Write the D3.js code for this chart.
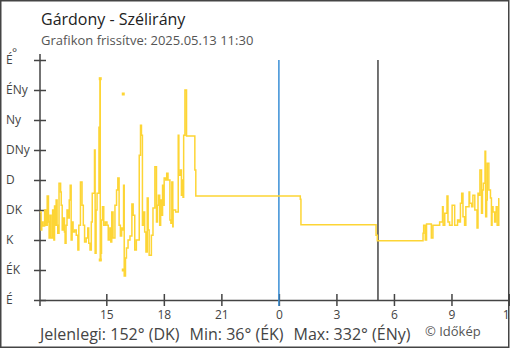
<!DOCTYPE html>
<html><head><meta charset="utf-8">
<script src="https://cdn.jsdelivr.net/npm/d3@7"></script>
<style>
html,body{margin:0;padding:0;background:#fff;}
svg{display:block;font-family:"Open Sans",sans-serif;}
</style></head><body>
<svg id="c" width="510" height="350"></svg>
<script>
// ---------- data ----------
const title = "Gárdony - Szélirány";
const subtitle = "Grafikon frissítve: 2025.05.13 11:30";
const dirTicks = [0, 45, 90, 135, 180, 225, 270, 315, 360];
const dirLabels = ["É", "ÉK", "K", "DK", "D", "DNy", "Ny", "ÉNy", "É"];
const hourTicks = ["2025-05-12T15:00", "2025-05-12T18:00", "2025-05-12T21:00", "2025-05-13T00:00",
                   "2025-05-13T03:00", "2025-05-13T06:00", "2025-05-13T09:00", "2025-05-13T12:00"];
const hourLabels = ["15", "18", "21", "0", "3", "6", "9", "12"];
const timeDomain = ["2025-05-12T11:32:30", "2025-05-13T12:00:00"];

// measurement times (HH:MM; before 11:31 = 13 May, otherwise 12 May) and wind directions (deg)
const times = [
 "11:32","11:36","11:38","11:42","11:47","11:51","11:55","11:59","12:01","12:04",
 "12:07","12:12","12:16","12:18","12:21","12:23","12:26","12:28","12:32","12:37",
 "12:39","12:42","12:46","12:49","12:51","12:54","12:57","13:01","13:04","13:07",
 "13:10","13:13","13:16","13:21","13:26","13:31","13:34","13:39","13:44","13:48",
 "13:52","13:57","14:02","14:05","14:09","14:13","14:16","14:23","14:25","14:28",
 "14:31","14:37","14:40","14:41","14:43","14:45","14:48","14:52","14:57","15:02",
 "15:06","15:11","15:14","15:17","15:21","15:27","15:32","15:36","15:40","15:44",
 "15:48","15:52","15:54","15:56","16:00","16:03","16:08","16:14","16:20","16:24",
 "16:29","16:34","16:43","16:47","16:50","16:53","16:57","17:00","17:04","17:08",
 "17:11","17:14","17:21","17:26","17:32","17:37","17:40","17:43","17:47","17:50",
 "17:53","17:56","17:59","18:01","18:06","18:09","18:13","18:19","18:22","18:25",
 "18:28","18:29","18:37","18:45","18:47","18:52","18:55","18:58","19:00","19:02",
 "19:06","19:11","19:37","19:40",
 "01:07","01:09","05:04","05:08",
 "07:31","07:33","07:38","07:42","07:57","08:02","08:23","08:32","08:34","08:39",
 "08:46","08:49","08:54","09:02","09:10","09:19","09:24","09:28","09:32","09:36",
 "09:41","09:45","09:55","09:57","10:03","10:07","10:13","10:20","10:23","10:26",
 "10:29","10:34","10:37","10:40","10:45","10:47","10:50","10:52","10:57","11:02",
 "11:05","11:07","11:10","11:15","11:18","11:20","11:23","11:28","11:30"
];
const dirs = [
 132,105,117,111,135,112,156,117,93,127,
 93,135,90,141,112,150,112,100,175,162,
 142,105,123,102,85,112,135,123,150,172,
 90,117,102,105,97,75,112,177,142,112,
 87,93,108,85,75,117,160,225,70,135,
 160,259,332,60,70,120,140,112,117,112,
 90,108,87,132,93,142,165,183,112,96,
 108,105,172,36,63,78,90,96,144,127,
 75,90,217,262,247,112,132,102,72,153,
 105,67,97,138,200,117,142,157,112,150,
 127,172,142,183,180,190,180,120,115,177,
 110,135,132,247,187,195,157,180,154,247,
 315,246,195,156,
 151,113,97,89,
 100,112,90,114,93,112,117,140,112,130,
 156,117,112,142,112,120,117,145,160,125,
 112,140,162,145,140,157,135,108,160,157,
 195,130,165,175,223,125,150,205,165,153,
 112,140,132,117,132,140,112,152,152
];
const markerTimes = ["14:41", "14:41", "15:53", "15:53"];
const markerDirs = [332, 60, 309, 45];
const refLineTimes = ["00:00", "05:10"]; // midnight, sunrise
const summary = ["Jelenlegi: 152° (DK)", "Min: 36° (ÉK)", "Max: 332° (ÉNy)"];
const credit = "© Időkép";

// ---------- helpers ----------
const at = s => {
  const [h, m] = s.split(":").map(Number);
  const day = (h * 60 + m) < 11 * 60 + 31 ? 13 : 12;
  return new Date(2025, 4, day, h, m);
};
const iso = s => new Date(s);

const svg = d3.select("#c");
const plotL = 40, plotR = 509, plotT = 60, plotB = 300;

svg.append("rect").attr("x", 0.75).attr("y", 0.75).attr("width", 508).attr("height", 346.5)
  .attr("fill", "#fff").attr("stroke", "#444").attr("stroke-width", 1.5);

const x = d3.scaleTime().domain(timeDomain.map(iso)).range([plotL, plotR]);
const y = d3.scaleLinear().domain([0, 360]).range([plotB, plotT]);

// title
svg.append("text").attr("x", 41).attr("y", 25).attr("font-size", 16).attr("fill", "#222").text(title);
svg.append("text").attr("x", 41).attr("y", 45).attr("font-size", 13).attr("fill", "#555").text(subtitle);

// y axis
const yAxis = svg.append("g").attr("transform", `translate(${plotL},0)`)
  .call(d3.axisLeft(y).tickValues(dirTicks).tickFormat((d, i) => dirLabels[i]).tickSizeOuter(0));
yAxis.select(".domain").attr("d", `M0,${y(360) - 6}V${y(0) + 6}`).attr("stroke", "#444").attr("stroke-width", 1.5);
yAxis.selectAll(".tick line").attr("x1", -6).attr("x2", 6).attr("stroke", "#444").attr("stroke-width", 1.5);
yAxis.selectAll(".tick text").attr("x", 6 - plotL).attr("text-anchor", "start").attr("dy", "0.3em")
  .attr("font-size", 12).attr("font-family", "Open Sans").attr("fill", "#444");
svg.append("text").attr("x", 12).attr("y", 57).attr("font-size", 12).attr("fill", "#444").text("°");

// x axis
const xAxis = svg.append("g").attr("transform", `translate(0,${plotB})`)
  .call(d3.axisBottom(x).tickValues(hourTicks.map(iso)).tickFormat((d, i) => hourLabels[i]).tickSizeOuter(0));
xAxis.select(".domain").attr("stroke", "#444").attr("stroke-width", 1.5);
xAxis.selectAll(".tick line").attr("y1", -6).attr("y2", 6).attr("stroke", "#444").attr("stroke-width", 1.5);
xAxis.selectAll(".tick text").attr("y", 19).attr("dy", 0)
  .attr("font-size", 12).attr("font-family", "Open Sans").attr("fill", "#444");

// reference lines
svg.selectAll(".ref").data(refLineTimes).enter().append("line")
  .attr("x1", d => x(at(d))).attr("x2", d => x(at(d)))
  .attr("y1", y(360)).attr("y2", (d, i) => i === 0 ? y(0) + 6 : y(0))
  .attr("stroke", (d, i) => i === 0 ? "#3a8fd6" : "#444").attr("stroke-width", 1.5);

// series
const pts = times.map((t, i) => ({ t: at(t), v: dirs[i] }));
const line = d3.line().x(d => x(d.t)).y(d => y(d.v)).curve(d3.curveStepAfter);
svg.append("path").datum(pts).attr("d", line).attr("fill", "none")
  .attr("stroke", "#fdd535").attr("stroke-width", 1.5);

// isolated markers
svg.selectAll(".mk").data(markerTimes).enter().append("rect")
  .attr("x", d => x(at(d)) - 1.5).attr("y", (d, i) => y(markerDirs[i]) - 1.5)
  .attr("width", 3).attr("height", 3).attr("fill", "#fdd535");

// summary
let sx = 40;
summary.forEach(s => {
  const t = svg.append("text").attr("x", sx).attr("y", 340).attr("font-size", 16).attr("fill", "#444").text(s);
  sx += t.node().getComputedTextLength() + 10;
});
svg.append("text").attr("x", 425).attr("y", 336).attr("font-size", 13).attr("fill", "#555").text(credit);
</script>
</body></html>
